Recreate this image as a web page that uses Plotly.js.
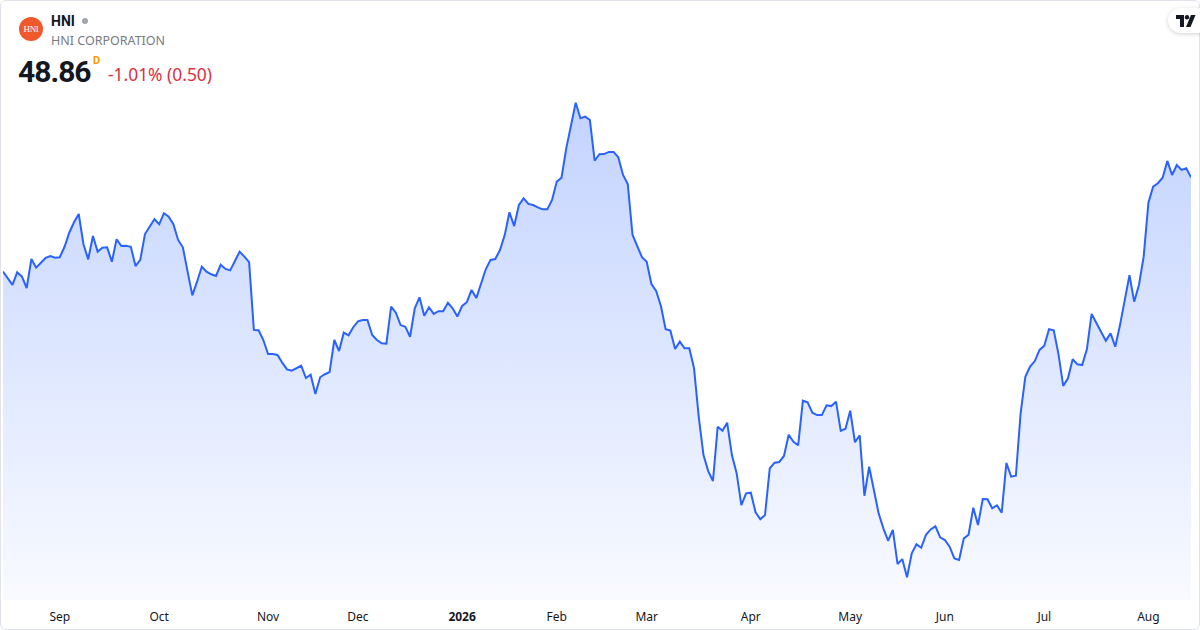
<!DOCTYPE html>
<html><head><meta charset="utf-8">
<script src="https://cdn.plot.ly/plotly-3.0.1.min.js"></script>
<style>
html,body{margin:0;padding:0;background:#fff;}
#wrap{position:relative;width:1200px;height:630px;overflow:hidden;font-family:"Noto Sans",Roboto,sans-serif;}
#chart{position:absolute;left:0;top:0;width:1200px;height:630px;}
#frame{position:absolute;left:0;top:0;width:1200px;height:630px;box-sizing:border-box;border:1px solid #E0E3EB;border-radius:6px;pointer-events:none;}
.abs{position:absolute;white-space:nowrap;line-height:normal;}
#logo{left:19px;top:17px;width:24px;height:24px;border-radius:50%;background:#F0592B;color:#fff;font-family:"Liberation Serif","DejaVu Serif",serif;font-size:9px;line-height:24px;text-align:center;letter-spacing:-0.3px;}
#sym{left:51px;top:13px;font-family:Roboto,sans-serif;font-size:14px;font-weight:700;color:#131722;}
#dot{left:82px;top:18px;width:6px;height:6px;border-radius:50%;background:#A3A6AF;}
#name{left:51px;top:31.5px;font-size:12.5px;color:#787B86;}
#price{left:18px;top:54px;font-family:Roboto,sans-serif;font-size:30px;font-weight:700;color:#131722;letter-spacing:-1px;}
#dflag{left:93px;top:54px;font-family:Roboto,sans-serif;font-size:11px;font-weight:700;color:#FF9800;}
#chg{left:108px;top:61.5px;font-size:17.4px;color:#DC2F42;}
#tv{left:1168px;top:8px;width:44px;height:25px;border-radius:13px;background:#fff;box-shadow:0 1px 4px rgba(0,0,0,0.18);}
</style>
</head>
<body>
<div id="wrap">
  <div id="chart"></div>
  <div id="frame"></div>
  <div id="logo" class="abs">HNI</div>
  <div id="sym" class="abs">HNI</div>
  <div id="dot" class="abs"></div>
  <div id="name" class="abs">HNI CORPORATION</div>
  <div id="price" class="abs">48.86</div>
  <div id="dflag" class="abs">D</div>
  <div id="chg" class="abs">-1.01% (0.50)</div>
  <div id="tv" class="abs">
    <svg width="22" height="12" viewBox="0 0 22 12" style="position:absolute;left:8px;top:7px">
      <path d="M0 0H8V12H4V4H0Z" fill="#131722"/>
      <circle cx="11" cy="2.2" r="2.2" fill="#131722"/>
      <path d="M15 0H19.5L14.5 12H10Z" fill="#131722"/>
    </svg>
  </div>
</div>
<script>
// ---- data ----
const symbol = 'HNI';
const companyName = 'HNI CORPORATION';
const lastPrice = 48.86;
const startDate = '2025-08-14';
const holidays = ['2025-09-01','2025-11-27','2025-12-25','2026-01-01','2026-01-19',
  '2026-02-16','2026-04-03','2026-05-25','2026-06-19','2026-07-03'];
const closes = [
  43.62,43.27,42.88,43.58,43.34,42.71,44.32,43.84,44.12,44.38,
  44.49,44.39,44.42,45.00,45.78,46.36,46.82,45.14,44.30,45.60,
  44.73,44.95,44.97,44.17,45.42,45.04,45.06,45.00,43.93,44.27,
  45.71,46.15,46.53,46.25,46.86,46.67,46.25,45.38,44.97,43.62,
  42.30,43.06,43.89,43.62,43.47,43.38,44.00,43.77,43.69,44.21,
  44.73,44.45,44.15,40.38,40.36,39.82,39.04,39.04,38.99,38.56,
  38.19,38.12,38.25,38.39,37.71,37.89,36.82,37.75,37.92,38.04,
  39.82,39.21,40.23,40.08,40.53,40.86,40.93,40.93,40.10,39.82,
  39.64,39.62,41.67,41.34,40.65,40.56,40.00,41.58,42.19,41.17,
  41.64,41.27,41.42,41.42,41.89,41.58,41.12,41.71,41.92,42.60,
  42.15,42.93,43.75,44.27,44.32,44.82,45.65,46.92,46.15,47.32,
  47.69,47.38,47.32,47.19,47.08,47.08,47.60,48.62,48.84,50.47,
  51.73,53.00,52.14,52.23,52.04,49.78,50.14,50.15,50.27,50.27,
  49.97,48.99,48.49,45.67,45.04,44.42,44.17,42.93,42.54,41.71,
  40.42,40.34,39.32,39.73,39.36,39.36,38.25,35.54,33.43,32.54,
  31.99,35.00,34.78,35.23,33.43,32.42,30.65,31.30,31.34,30.25,
  29.86,30.10,32.69,33.00,33.04,33.38,34.56,34.17,33.97,36.45,
  36.36,35.78,35.65,35.65,36.19,36.15,36.39,34.77,34.89,35.89,
  34.14,34.53,31.17,32.78,31.49,30.19,29.36,28.67,29.27,27.38,
  27.65,26.64,27.97,28.47,28.28,29.00,29.30,29.47,28.86,28.71,
  28.34,27.69,27.60,28.80,29.00,30.50,29.54,30.99,30.97,30.47,
  30.64,30.23,32.99,32.23,32.28,35.75,37.78,38.34,38.65,39.27,
  39.50,40.42,40.36,39.04,37.27,37.69,38.75,38.47,38.43,39.30,
  41.27,40.80,40.28,39.78,40.19,39.45,40.65,42.08,43.42,41.95,
  42.88,44.45,47.45,48.34,48.53,48.84,49.77,48.99,49.54,49.27,
  49.36,48.86
];
const tickDates = ['2025-09-02','2025-10-01','2025-11-03','2025-12-01','2026-01-02','2026-02-02',
  '2026-03-02','2026-04-01','2026-05-01','2026-06-01','2026-07-01','2026-08-03'];
const tickLabels = ['Sep','Oct','Nov','Dec','<b>2026</b>','Feb','Mar','Apr','May','Jun','Jul','Aug'];

// trading-day calendar for the category axis
function tradingDays(start, n){
  const out = [];
  const d = new Date(start + 'T00:00:00Z');
  while (out.length < n){
    const wd = d.getUTCDay();
    const s = d.toISOString().slice(0,10);
    if (wd !== 0 && wd !== 6 && holidays.indexOf(s) < 0) out.push(s);
    d.setUTCDate(d.getUTCDate() + 1);
  }
  return out;
}
const dates = tradingDays(startDate, closes.length);

const yMin = 25.377, yMax = 58.71;
const trace = {
  x: dates, y: closes, type: 'scatter', mode: 'lines',
  line: {color: '#2962FF', width: 2},
  fill: 'tozeroy',
  fillgradient: {type: 'vertical', start: yMin, stop: Math.max.apply(null, closes),
    colorscale: [[0, 'rgba(41,98,255,0.03)'], [1, 'rgba(41,98,255,0.28)']]},
  hoverinfo: 'skip'
};
const layout = {
  width: 1200, height: 630,
  margin: {l: 3, r: 9, t: 0, b: 30},
  paper_bgcolor: 'rgba(0,0,0,0)', plot_bgcolor: 'rgba(0,0,0,0)',
  showlegend: false,
  xaxis: {type: 'category', range: [0, closes.length - 1], showgrid: false, zeroline: false,
    showline: false, ticks: '', tickvals: tickDates, ticktext: tickLabels,
    tickfont: {family: '"Noto Sans", Roboto, sans-serif', size: 12, color: '#131722'},
    ticklabelstandoff: 8, fixedrange: true},
  yaxis: {range: [yMin, yMax], visible: false, fixedrange: true}
};
Plotly.newPlot('chart', [trace], layout, {displayModeBar: false, staticPlot: true});
</script>
</body></html>
